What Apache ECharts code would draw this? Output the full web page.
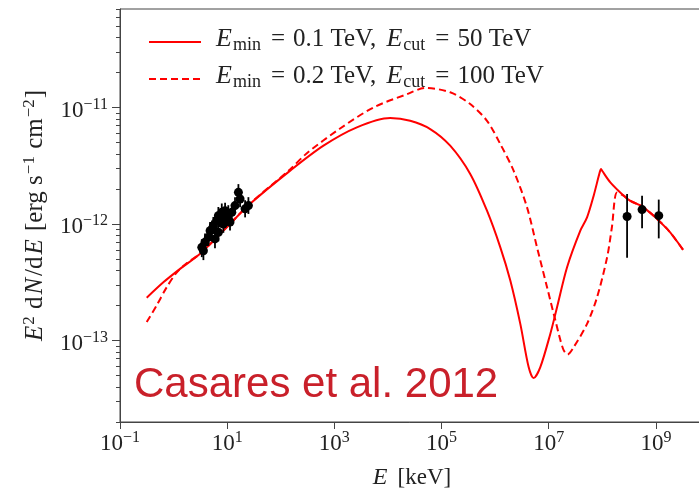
<!DOCTYPE html>
<html><head><meta charset="utf-8">
<script src="https://cdn.jsdelivr.net/npm/echarts@6/dist/echarts.min.js"></script>
<style>html,body{margin:0;padding:0;background:#fff}#c{width:699px;height:489px}</style>
</head><body><div id="c"></div>
<script>
// Model curve: E_min = 0.1 TeV, E_cut = 50 TeV  (E in keV, E^2 dN/dE in erg s^-1 cm^-2)
const solidE = [0.315, 0.644, 1.32, 3.12, 10, 26.8, 150, 627, 2630, 1.10e4, 2.60e4, 6.15e4, 1.45e5, 3.43e5, 7.05e5, 1.25e6, 1.92e6, 2.95e6, 4.22e6, 5.22e6, 6.97e6, 1.07e7, 1.43e7, 2.20e7, 3.89e7, 5.19e7, 6.90e7, 8.9e7, 9.48e7, 1.0e8, 1.41e8, 2.51e8, 3.34e8, 5.92e8, 1.62e9, 3.22e9];
const solidF = [2.33e-13, 3.16e-13, 4.12e-13, 5.55e-13, 9.46e-13, 1.49e-12, 2.87e-12, 4.70e-12, 6.75e-12, 8.11e-12, 7.69e-12, 6.53e-12, 4.70e-12, 2.69e-12, 1.30e-12, 6.31e-13, 3.27e-13, 1.39e-13, 5.92e-14, 4.76e-14, 5.92e-14, 1.14e-13, 1.93e-13, 4.26e-13, 8.77e-13, 1.14e-12, 1.75e-12, 2.75e-12, 2.96e-12, 2.85e-12, 2.28e-12, 1.75e-12, 1.58e-12, 1.39e-12, 9.08e-13, 6.00e-13];
// Model curve: E_min = 0.2 TeV, E_cut = 100 TeV
const dashedE = [0.315, 0.482, 0.745, 1.15, 1.8, 3.12, 10, 26.8, 150, 307, 1280, 5370, 2.26e4, 5.01e4, 1.45e5, 3.43e5, 7.05e5, 1.25e6, 2.21e6, 3.94e6, 6.05e6, 9.31e6, 1.33e7, 1.85e7, 2.25e7, 2.92e7, 5.19e7, 7.98e7, 1.23e8, 1.51e8, 1.88e8, 2.51e8, 3.34e8, 5.92e8, 1.62e9, 3.22e9];
const dashedF = [1.44e-13, 2.00e-13, 2.87e-13, 3.85e-13, 4.65e-13, 5.55e-13, 9.46e-13, 1.50e-12, 2.95e-12, 4.05e-12, 6.60e-12, 1.0e-11, 1.30e-11, 1.47e-11, 1.35e-11, 1.07e-11, 7.69e-12, 4.85e-12, 2.87e-12, 1.39e-12, 6.31e-13, 2.87e-13, 1.49e-13, 8.5e-14, 7.6e-14, 8.77e-14, 1.39e-13, 2.35e-13, 5.19e-13, 9.38e-13, 1.86e-12, 1.75e-12, 1.58e-12, 1.39e-12, 9.08e-13, 6.00e-13];
// X-ray data points
const xrayE  = [3.36, 3.6, 3.86, 4.46, 4.80, 5.2, 5.52, 5.92, 6.40, 6.85, 6.85, 7.3, 7.93, 8.49, 9.14, 9.8, 10.5, 11.3, 12.2, 14.0, 16.2, 17.4, 21.6, 24.9];
const xrayF  = [6.31e-13, 5.9e-13, 6.97e-13, 7.69e-13, 8.77e-13, 9.0e-13, 9.68e-13, 7.45e-13, 1.07e-12, 1.18e-12, 8.49e-13, 1.12e-12, 1.26e-12, 1.00e-12, 1.30e-12, 1.15e-12, 1.22e-12, 1.04e-12, 1.26e-12, 1.44e-12, 1.87e-12, 1.64e-12, 1.35e-12, 1.44e-12];
const xrayLo = [5.2e-13, 4.9e-13, 5.8e-13, 6.5e-13, 7.3e-13, 7.6e-13, 8.2e-13, 6.2e-13, 9.0e-13, 1.0e-12, 7.1e-13, 9.4e-13, 1.06e-12, 8.4e-13, 1.10e-12, 9.7e-13, 1.03e-12, 8.8e-13, 1.07e-12, 1.22e-12, 1.58e-12, 1.39e-12, 1.14e-12, 1.22e-12];
const xrayHi = [7.4e-13, 7.0e-13, 8.3e-13, 9.1e-13, 1.04e-12, 1.07e-12, 1.15e-12, 8.9e-13, 1.27e-12, 1.40e-12, 1.0e-12, 1.33e-12, 1.50e-12, 1.19e-12, 1.52e-12, 1.36e-12, 1.45e-12, 1.23e-12, 1.49e-12, 1.70e-12, 2.20e-12, 1.94e-12, 1.60e-12, 1.70e-12];
// GeV data points
const gevE  = [2.90e8, 5.52e8, 1.13e9];
const gevF  = [1.16e-12, 1.33e-12, 1.18e-12];
const gevLo = [5.13e-13, 9.18e-13, 7.53e-13];
const gevHi = [1.81e-12, 1.75e-12, 1.62e-12];
// Axes
const xRange = [0.1, 7.9e9];
const yRange = [2e-14, 7e-11];
const xTickValues = [1e-1, 1e1, 1e3, 1e5, 1e7, 1e9];
const yTickValues = [1e-13, 1e-12, 1e-11];
const yMinorTickValues = [2e-14,3e-14,4e-14,5e-14,6e-14,7e-14,8e-14,9e-14,2e-13,3e-13,4e-13,5e-13,6e-13,7e-13,8e-13,9e-13,2e-12,3e-12,4e-12,5e-12,6e-12,7e-12,8e-12,9e-12,2e-11,3e-11,4e-11,5e-11,6e-11,7e-11];
const legendNames = ['E_min = 0.1 TeV, E_cut = 50 TeV', 'E_min = 0.2 TeV, E_cut = 100 TeV'];
const annotation = 'Casares et al. 2012';

const L = Math.log10;
const pairs = (xs, ys) => xs.map((x, i) => [L(x), L(ys[i])]);
const bars = (xs, lo, hi) => xs.map((x, i) => [L(x), L(lo[i]), L(hi[i])]);
const MINUS = '\u2212';
const SERIF = '"Liberation Serif", "DejaVu Serif", serif';
const C = '#222';
const expLabel = v => '{b|10}{s|' + String(Math.round(v)).replace('-', MINUS) + '}';
const richTick = {
  b: {fontFamily: SERIF, fontSize: 23, color: C, lineHeight: 22, padding: [6, 0, 0, 0]},
  s: {fontFamily: SERIF, fontSize: 16, color: C, lineHeight: 16, verticalAlign: 'top'}
};
const legendRich = {
  i: {fontFamily: SERIF, fontSize: 26, fontStyle: 'italic', color: C, lineHeight: 24, padding: [0, 1, 6, 0]},
  t: {fontFamily: SERIF, fontSize: 25, color: C, lineHeight: 24, padding: [0, 0, 6, 0]},
  eq: {fontFamily: SERIF, fontSize: 25, color: C, lineHeight: 24, padding: [0, 8, 6, 10]},
  sp: {fontFamily: SERIF, fontSize: 25, color: C, lineHeight: 24, padding: [0, 4, 6, 0]},
  sub: {fontFamily: SERIF, fontSize: 18, color: C, lineHeight: 16, verticalAlign: 'bottom'}
};
const legendFmt = name => {
  const m = name.match(/E_min = (.*), E_cut = (.*)/);
  return '{i|E}{sub|min}{eq|=}{t|' + m[1] + ',}{sp| }{i|E}{sub|cut}{eq|=}{t|' + m[2] + '}';
};

const chart = echarts.init(document.getElementById('c'), null, {renderer: 'canvas'});
const errItem = (params, api) => {
  const p1 = api.coord([api.value(0), api.value(1)]);
  const p2 = api.coord([api.value(0), api.value(2)]);
  return {type: 'line', shape: {x1: p1[0], y1: p1[1], x2: p2[0], y2: p2[1]}, style: {stroke: '#000', lineWidth: 1.8}};
};
chart.setOption({
  animation: false,
  backgroundColor: '#fff',
  grid: {left: 120, top: 9, width: 584, height: 413, outerBoundsMode: 'none', containLabel: false,
         show: true, borderColor: '#444', borderWidth: 1, backgroundColor: 'transparent'},
  legend: {
    data: legendNames, orient: 'vertical', left: 143, top: 21, itemWidth: 52, itemHeight: 12, itemGap: 5,
    itemStyle: {opacity: 0},
    formatter: legendFmt, textStyle: {rich: legendRich, padding: [0, 0, 0, 10]}
  },
  xAxis: {
    type: 'value', min: L(xRange[0]), max: L(xRange[1]),
    name: '{i|E}{t|[keV]}', nameLocation: 'middle', nameGap: 44,
    nameTextStyle: {rich: {i: {fontFamily: SERIF, fontSize: 24, fontStyle: 'italic', color: C, padding: [0, 10, 0, 0]}, t: {fontFamily: SERIF, fontSize: 23, color: C}}},
    axisLine: {onZero: false, lineStyle: {color: '#444', width: 1}},
    axisTick: {customValues: xTickValues.map(L), length: 7, lineStyle: {color: '#444'}},
    axisLabel: {customValues: xTickValues.map(L), formatter: expLabel, rich: richTick, margin: 8},
    splitLine: {show: false}
  },
  yAxis: [{
    type: 'value', min: L(yRange[0]), max: L(yRange[1]),
    name: '{i|E}{sup|2}{t| d}{i|N}{t|/d}{i|E}{t| [erg s}{sup|' + MINUS + '1}{t| cm}{sup|' + MINUS + '2}{t|]}',
    nameLocation: 'middle', nameGap: 77, nameRotate: 90,
    nameTextStyle: {rich: {
      i: {fontFamily: SERIF, fontSize: 25, fontStyle: 'italic', color: C, lineHeight: 22, padding: [6, 1, 0, 1]},
      t: {fontFamily: SERIF, fontSize: 25, color: C, lineHeight: 22, padding: [6, 1, 0, 1]},
      sup: {fontFamily: SERIF, fontSize: 17, color: C, lineHeight: 16, verticalAlign: 'top'}
    }},
    axisLine: {show: true, onZero: false, lineStyle: {color: '#444', width: 1}},
    axisTick: {show: true, customValues: yTickValues.map(L), length: 8, lineStyle: {color: '#444'}},
    axisLabel: {customValues: yTickValues.map(L), formatter: expLabel, rich: richTick, margin: 12},
    splitLine: {show: false}
  }, {
    type: 'value', min: L(yRange[0]), max: L(yRange[1]), position: 'left',
    axisLine: {show: false, onZero: false},
    axisTick: {show: true, customValues: yMinorTickValues.map(L), length: 4, lineStyle: {color: '#444'}},
    axisLabel: {show: false}, splitLine: {show: false}
  }],
  graphic: [{
    type: 'text', left: 134, top: 364,
    style: {text: annotation, font: '42px "Liberation Sans", Arial, sans-serif', fill: '#c9202a'}
  }],
  series: [
    {name: legendNames[0], type: 'line', data: pairs(solidE, solidF), symbol: 'none', smooth: 0.3,
     lineStyle: {color: '#ff0000', width: 2}, itemStyle: {color: '#ff0000'}, z: 2},
    {name: legendNames[1], type: 'line', data: pairs(dashedE, dashedF), symbol: 'none', smooth: 0.3,
     lineStyle: {color: '#ff0000', width: 2, type: [7, 4]}, itemStyle: {color: '#ff0000'}, z: 2},
    {type: 'custom', data: bars(xrayE, xrayLo, xrayHi).concat(bars(gevE, gevLo, gevHi)), renderItem: errItem,
     encode: {x: 0, y: [1, 2]}, z: 3},
    {type: 'scatter', data: pairs(xrayE, xrayF).concat(pairs(gevE, gevF)), symbol: 'circle', symbolSize: 9,
     itemStyle: {color: '#000', opacity: 1}, z: 4}
  ]
});
</script></body></html>
